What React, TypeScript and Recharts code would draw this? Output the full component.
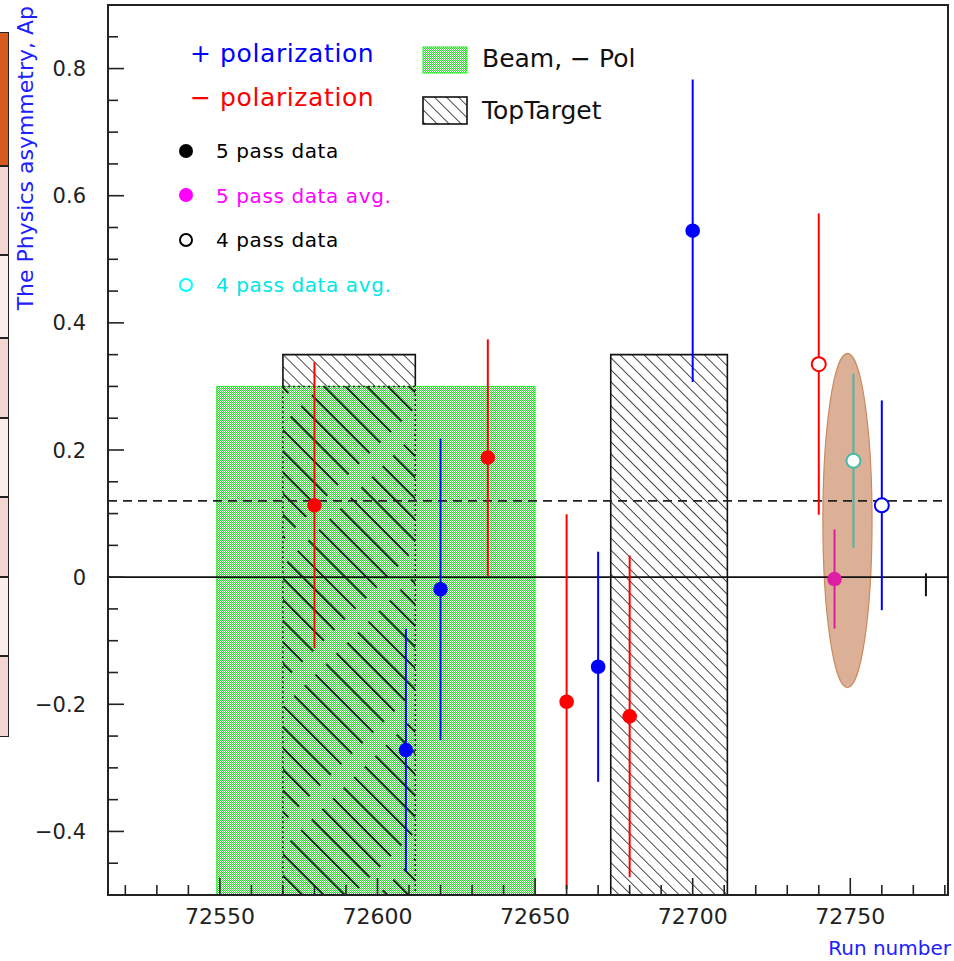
import React from "react";
import {
  ComposedChart,
  Scatter,
  XAxis,
  YAxis,
  ReferenceArea,
  ReferenceLine,
  ErrorBar
} from "recharts";

// + polarization, 5 pass data
const plusRuns = [72609, 72620, 72670, 72700];
const plusAsym = [-0.272, -0.019, -0.141, 0.545];
const plusErr = [0.191, 0.237, 0.181, 0.238];

// - polarization, 5 pass data
const minusRuns = [72580, 72635, 72660, 72680];
const minusAsym = [0.113, 0.188, -0.196, -0.219];
const minusErr = [0.225, 0.186, 0.295, 0.253];

// 4 pass data (open markers)
const minus4Runs = [72740];
const minus4Asym = [0.335];
const minus4Err = [0.237];
const plus4Runs = [72760];
const plus4Asym = [0.113];
const plus4Err = [0.165];

// averages
const avg5Runs = [72745];
const avg5Asym = [-0.003];
const avg5Err = [0.078];
const avg4Runs = [72751];
const avg4Asym = [0.183];
const avg4Err = [0.137];

// lone bar at the right edge
const extraRuns = [72774];
const extraAsym = [-0.012];
const extraErr = [0.018];

// boxes: beam (-pol) and top target runs
const beamRuns = [72549, 72650];
const beamTop = 0.3;
const targetRuns = [
  [72570, 72612],
  [72674, 72711]
];
const targetTop = 0.35;
const avgLevel = 0.12;
const ellipseRuns = [72741.3, 72756.9];
const ellipseAsym = [-0.174, 0.352];

const xDomain = [72514.5, 72781];
const yDomain = [-0.5, 0.9];
const xTicks = [
  72520, 72530, 72540, 72550, 72560, 72570, 72580, 72590, 72600, 72610, 72620,
  72630, 72640, 72650, 72660, 72670, 72680, 72690, 72700, 72710, 72720, 72730,
  72740, 72750, 72760, 72770, 72780
];
const yTicks = [
  -0.5, -0.45, -0.4, -0.35, -0.3, -0.25, -0.2, -0.15, -0.1, -0.05, 0, 0.05, 0.1,
  0.15, 0.2, 0.25, 0.3, 0.35, 0.4, 0.45, 0.5, 0.55, 0.6, 0.65, 0.7, 0.75, 0.8,
  0.85, 0.9
];

const toPoints = (runs: number[], asym: number[], err: number[]) =>
  runs.map((x, i) => ({ x, y: asym[i], err: err[i] }));

const FONT = "'DejaVu Sans', sans-serif";
const BLUE = "#0000ff";
const RED = "#ff0000";

const filled = (color: string) => (p: any) => (
  <circle cx={p.cx} cy={p.cy} r={7.3} fill={color} />
);
const hollow = (color: string) => (p: any) => (
  <circle cx={p.cx} cy={p.cy} r={7} fill="#ffffff" stroke={color} strokeWidth={2} />
);
const noMarker = () => <g />;

const renderXTick = (props: any) => {
  const { x, y, payload } = props;
  const v = payload.value;
  const major = v % 50 === 0;
  return (
    <g>
      <line x1={x} x2={x} y1={y} y2={y - (major ? 17 : 10)} stroke="#222" strokeWidth={1.6} />
      {major && (
        <text x={x} y={y + 29} textAnchor="middle" fontSize={22} fontFamily={FONT} fill="#222">
          {v}
        </text>
      )}
    </g>
  );
};

const renderYTick = (props: any) => {
  const { x, y, payload } = props;
  const v = payload.value;
  const q = v / 0.2;
  const major = Math.abs(q - Math.round(q)) < 1e-6;
  const label = Math.abs(v) < 1e-9 ? "0" : v < 0 ? "\u2212" + Math.abs(v).toFixed(1) : v.toFixed(1);
  return (
    <g>
      <line x1={x} x2={x + (major ? 16 : 10)} y1={y} y2={y} stroke="#222" strokeWidth={1.6} />
      {major && (
        <text x={x - 22} y={y + 7.5} textAnchor="end" fontSize={21} fontFamily={FONT} fill="#222">
          {label}
        </text>
      )}
    </g>
  );
};

const ellipseShape = (p: any) => (
  <ellipse
    cx={p.x + p.width / 2}
    cy={p.y + p.height / 2}
    rx={p.width / 2}
    ry={p.height / 2}
    fill="#dcb096"
    stroke="#c98a62"
    strokeWidth={1.2}
  />
);

const sideCells = [
  { top: 32, bottom: 166, color: "#d65a1e" },
  { top: 166, bottom: 255, color: "#f3d6d2" },
  { top: 255, bottom: 338, color: "#f9eeec" },
  { top: 338, bottom: 418, color: "#f3d6d2" },
  { top: 418, bottom: 497, color: "#f9eeec" },
  { top: 497, bottom: 577, color: "#f3d6d2" },
  { top: 577, bottom: 656, color: "#f9eeec" },
  { top: 656, bottom: 737, color: "#f3d6d2" }
];

const Patterns = () => (
  <defs>
    <pattern id="dots" width="2" height="2" patternUnits="userSpaceOnUse">
      <rect x="0" y="0" width="2" height="2" fill="#ffffff" />
      <rect x="0" y="0" width="1" height="1" fill="#22dd22" />
      <rect x="1" y="1" width="1" height="1" fill="#22dd22" />
    </pattern>
    <pattern id="hatch" width="8.5" height="8.5" patternUnits="userSpaceOnUse" patternTransform="rotate(-45)">
      <rect x="0" y="0" width="8.5" height="8.5" fill="#ffffff" />
      <line x1="0" y1="0" x2="0" y2="8.5" stroke="#111" strokeWidth="1.5" />
    </pattern>
    <pattern id="hatchGreen" width="15" height="100" patternUnits="userSpaceOnUse" patternTransform="rotate(-45)">
      <line x1="1" y1="0" x2="1" y2="82" stroke="#0b300b" strokeWidth="2.2" />
    </pattern>
  </defs>
);

export default function App() {
  return (
    <div style={{ position: "absolute", left: 0, top: 0, width: 954, height: 961, background: "#fff" }}>
      {sideCells.map((c, i) => (
        <div
          key={i}
          style={{
            position: "absolute",
            left: 0,
            top: c.top,
            width: 9,
            height: c.bottom - c.top,
            background: c.color,
            boxSizing: "border-box",
            borderTop: "1.5px solid #222",
            borderBottom: "1.5px solid #222",
            borderRight: "1.5px solid #222"
          }}
        />
      ))}
      <ComposedChart
        width={954}
        height={961}
        margin={{ top: 5, right: 6, left: 0, bottom: 0 }}
        style={{ position: "absolute", left: 0, top: 0 }}
      >
        <Patterns />
        <XAxis
          type="number"
          dataKey="x"
          domain={xDomain}
          ticks={xTicks}
          interval={0}
          allowDataOverflow
          height={66}
          axisLine={false}
          tickLine={false}
          tickSize={0}
          tickMargin={0}
          tick={renderXTick}
        />
        <YAxis
          type="number"
          dataKey="y"
          domain={yDomain}
          ticks={yTicks}
          interval={0}
          allowDataOverflow
          width={108}
          axisLine={false}
          tickLine={false}
          tickSize={0}
          tickMargin={0}
          tick={renderYTick}
        />
        {targetRuns.map((r, i) => (
          <ReferenceArea
            key={"t" + i}
            x1={r[0]}
            x2={r[1]}
            y1={yDomain[0]}
            y2={targetTop}
            fill="url(#hatch)"
            fillOpacity={1}
            stroke="#111"
            strokeWidth={1.6}
          />
        ))}
        <ReferenceArea
          x1={beamRuns[0]}
          x2={beamRuns[1]}
          y1={yDomain[0]}
          y2={beamTop}
          fill="url(#dots)"
          fillOpacity={1}
          stroke="#22ee22"
          strokeWidth={1}
        />
        <ReferenceArea
          x1={targetRuns[0][0]}
          x2={targetRuns[0][1]}
          y1={yDomain[0]}
          y2={beamTop}
          fill="url(#hatchGreen)"
          fillOpacity={1}
          stroke="#111"
          strokeWidth={1.6}
          strokeDasharray="2 3"
        />
        <ReferenceArea
          x1={ellipseRuns[0]}
          x2={ellipseRuns[1]}
          y1={ellipseAsym[0]}
          y2={ellipseAsym[1]}
          shape={ellipseShape}
        />
        <ReferenceLine y={0} stroke="#111" strokeWidth={1.6} />
        <ReferenceLine y={avgLevel} stroke="#222" strokeWidth={1.8} strokeDasharray="9 6" />

        <Scatter data={toPoints(minusRuns, minusAsym, minusErr)} shape={filled(RED)} isAnimationActive={false}>
          <ErrorBar dataKey="err" direction="y" width={0} stroke={RED} strokeWidth={2} isAnimationActive={false} />
        </Scatter>
        <Scatter data={toPoints(plusRuns, plusAsym, plusErr)} shape={filled(BLUE)} isAnimationActive={false}>
          <ErrorBar dataKey="err" direction="y" width={0} stroke={BLUE} strokeWidth={2} isAnimationActive={false} />
        </Scatter>
        <Scatter data={toPoints(minus4Runs, minus4Asym, minus4Err)} shape={hollow(RED)} isAnimationActive={false}>
          <ErrorBar dataKey="err" direction="y" width={0} stroke={RED} strokeWidth={2} isAnimationActive={false} />
        </Scatter>
        <Scatter data={toPoints(plus4Runs, plus4Asym, plus4Err)} shape={hollow(BLUE)} isAnimationActive={false}>
          <ErrorBar dataKey="err" direction="y" width={0} stroke={BLUE} strokeWidth={2} isAnimationActive={false} />
        </Scatter>
        <Scatter data={toPoints(avg5Runs, avg5Asym, avg5Err)} shape={filled("#de1ea2")} isAnimationActive={false}>
          <ErrorBar dataKey="err" direction="y" width={0} stroke="#de1ea2" strokeWidth={2} isAnimationActive={false} />
        </Scatter>
        <Scatter data={toPoints(avg4Runs, avg4Asym, avg4Err)} shape={hollow("#4ab8a6")} isAnimationActive={false}>
          <ErrorBar dataKey="err" direction="y" width={0} stroke="#4ab8a6" strokeWidth={2} isAnimationActive={false} />
        </Scatter>
        <Scatter data={toPoints(extraRuns, extraAsym, extraErr)} shape={noMarker} isAnimationActive={false}>
          <ErrorBar dataKey="err" direction="y" width={0} stroke="#111" strokeWidth={2} isAnimationActive={false} />
        </Scatter>

        <ReferenceArea
          x1={xDomain[0]}
          x2={xDomain[1]}
          y1={yDomain[0]}
          y2={yDomain[1]}
          fill="none"
          stroke="#222"
          strokeWidth={2}
        />
      </ComposedChart>

      <svg
        width={954}
        height={961}
        style={{ position: "absolute", left: 0, top: 0, pointerEvents: "none" }}
        fontFamily={FONT}
      >
        <Patterns />
        <text transform="translate(33,6) rotate(-90)" textAnchor="end" fontSize={22} fill="#2020ff">
          The Physics asymmetry, Ap
        </text>
        <text x={951} y={955} textAnchor="end" fontSize={20} fill="#2020ff">
          Run number
        </text>

        <text x={190} y={62} fontSize={25} fill={BLUE} letterSpacing={0.6}>+ polarization</text>
        <text x={190} y={106} fontSize={25} fill={RED} letterSpacing={0.6}>{"\u2212 polarization"}</text>

        <circle cx={186} cy={151} r={7} fill="#000" />
        <text x={216} y={158} fontSize={20} fill="#000" letterSpacing={0.6}>5 pass data</text>
        <circle cx={186} cy={195} r={7} fill="#ff00ff" />
        <text x={216} y={203} fontSize={20} fill="#ff00ff" letterSpacing={0.6}>5 pass data avg.</text>
        <circle cx={186} cy={240} r={6} fill="#fff" stroke="#000" strokeWidth={2} />
        <text x={216} y={247} fontSize={20} fill="#000" letterSpacing={0.6}>4 pass data</text>
        <circle cx={186} cy={285} r={6} fill="#fff" stroke="#00ffff" strokeWidth={2} />
        <text x={216} y={292} fontSize={20} fill="#00e6e6" letterSpacing={0.6}>4 pass data avg.</text>

        <rect x={423} y={47} width={44} height={26} fill="url(#dots)" stroke="#22ee22" strokeWidth={1} />
        <text x={482} y={67} fontSize={25} fill="#111">{"Beam, \u2212 Pol"}</text>
        <rect x={423} y={97} width={44} height={27} fill="url(#hatch)" stroke="#111" strokeWidth={1.6} />
        <text x={482} y={119} fontSize={25} fill="#111">TopTarget</text>
      </svg>
    </div>
  );
}
